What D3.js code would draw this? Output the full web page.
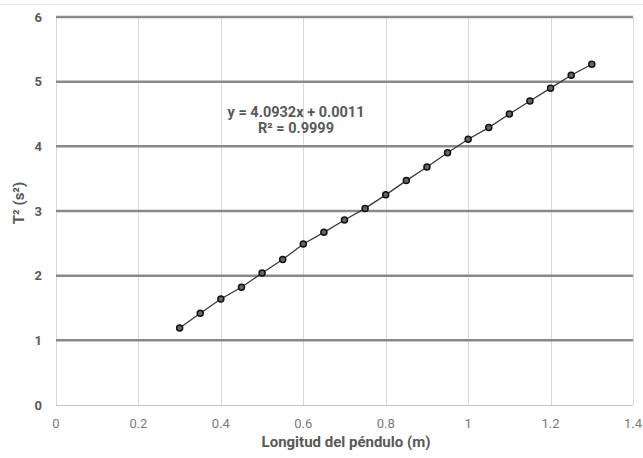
<!DOCTYPE html>
<html>
<head>
<meta charset="utf-8">
<script src="https://cdn.jsdelivr.net/npm/d3@7"></script>
<style>
  body { margin: 0; background: #fff; }
  svg { display: block; }
</style>
</head>
<body>
<svg id="chart" width="643" height="458"></svg>
<script>
// pendulum length (m)
const lengths = [0.3, 0.35, 0.4, 0.45, 0.5, 0.55, 0.6, 0.65, 0.7, 0.75, 0.8,
  0.85, 0.9, 0.95, 1.0, 1.05, 1.1, 1.15, 1.2, 1.25, 1.3];
// period squared (s^2)
const periodSq = [1.19, 1.42, 1.64, 1.82, 2.04, 2.25, 2.49, 2.67, 2.86, 3.04, 3.25,
  3.47, 3.68, 3.90, 4.11, 4.29, 4.50, 4.70, 4.90, 5.10, 5.27];
const xTicks = [0, 0.2, 0.4, 0.6, 0.8, 1, 1.2, 1.4];
const yTicks = [0, 1, 2, 3, 4, 5, 6];
const equationLines = ["y = 4.0932x + 0.0011", "R² = 0.9999"];

const svg = d3.select("#chart");
const margin = { left: 56, right: 10, top: 17, bottom: 53 };
const width = 643, height = 458;
const font = "'Roboto', 'Liberation Sans', sans-serif";

const x = d3.scaleLinear().domain([0, 1.4]).range([margin.left, width - margin.right]);
const y = d3.scaleLinear().domain([0, 6]).range([height - margin.bottom, margin.top]);

// faint border line at top
svg.append("line")
  .attr("x1", 0).attr("x2", width)
  .attr("y1", 4.5).attr("y2", 4.5)
  .attr("stroke", "#e6e6e6").attr("stroke-width", 1);

// vertical gridlines
svg.append("g")
  .selectAll("line")
  .data(xTicks)
  .join("line")
  .attr("x1", (d) => Math.round(x(d)) + 0.5)
  .attr("x2", (d) => Math.round(x(d)) + 0.5)
  .attr("y1", y(6))
  .attr("y2", y(0))
  .attr("stroke", "#d9d9d9")
  .attr("stroke-width", 1);

// bottom axis line
svg.append("line")
  .attr("x1", x(0)).attr("x2", x(1.4))
  .attr("y1", Math.round(y(0)) + 0.5).attr("y2", Math.round(y(0)) + 0.5)
  .attr("stroke", "#c8c8c8").attr("stroke-width", 1);

// horizontal gridlines (thick)
svg.append("g")
  .selectAll("line")
  .data(yTicks.filter((d) => d > 0))
  .join("line")
  .attr("x1", x(0))
  .attr("x2", x(1.4))
  .attr("y1", (d) => y(d))
  .attr("y2", (d) => y(d))
  .attr("stroke", "#8a8a8a")
  .attr("stroke-width", 2.5);

// x tick labels
svg.append("g")
  .selectAll("text")
  .data(xTicks)
  .join("text")
  .attr("x", (d) => x(d))
  .attr("y", 428)
  .attr("text-anchor", "middle")
  .attr("font-family", font)
  .attr("font-size", "13px")
  .attr("fill", "#7a7a7a")
  .text((d) => d);

// y tick labels
svg.append("g")
  .selectAll("text")
  .data(yTicks)
  .join("text")
  .attr("x", 42)
  .attr("y", (d) => y(d))
  .attr("dy", "0.35em")
  .attr("text-anchor", "end")
  .attr("font-family", font)
  .attr("font-size", "13px")
  .attr("font-weight", "bold")
  .attr("fill", "#595959")
  .text((d) => d);

// axis titles
svg.append("text")
  .attr("x", 346)
  .attr("y", 447)
  .attr("text-anchor", "middle")
  .attr("font-family", font)
  .attr("font-size", "15px")
  .attr("font-weight", "bold")
  .attr("fill", "#595959")
  .text("Longitud del péndulo (m)");

svg.append("text")
  .attr("transform", "translate(24, 203) rotate(-90)")
  .attr("text-anchor", "middle")
  .attr("font-family", font)
  .attr("font-size", "15px")
  .attr("font-weight", "bold")
  .attr("fill", "#595959")
  .text("T² (s²)");

// series line
const line = d3.line()
  .x((d, i) => x(lengths[i]))
  .y((d) => y(d));

svg.append("path")
  .datum(periodSq)
  .attr("d", line)
  .attr("fill", "none")
  .attr("stroke", "#3a3a3a")
  .attr("stroke-width", 1.3);

// markers
svg.append("g")
  .selectAll("circle")
  .data(periodSq)
  .join("circle")
  .attr("cx", (d, i) => x(lengths[i]))
  .attr("cy", (d) => y(d))
  .attr("r", 3)
  .attr("fill", "#666")
  .attr("stroke", "#111")
  .attr("stroke-width", 1.5);

// trendline equation
svg.append("g")
  .selectAll("text")
  .data(equationLines)
  .join("text")
  .attr("x", 296)
  .attr("y", (d, i) => 117 + i * 16)
  .attr("text-anchor", "middle")
  .attr("font-family", font)
  .attr("font-size", "14.5px")
  .attr("font-weight", "bold")
  .attr("fill", "#595959")
  .text((d) => d);
</script>
</body>
</html>
